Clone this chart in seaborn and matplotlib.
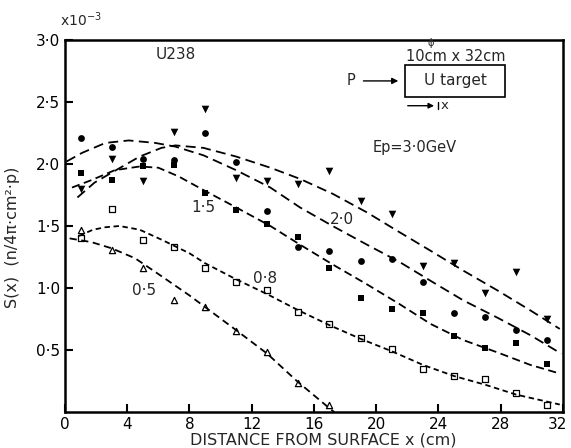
import matplotlib
matplotlib.use("Agg")
import matplotlib.pyplot as plt
import matplotlib.patches as mpatches
import matplotlib.transforms as mtransforms
from matplotlib.ticker import FuncFormatter
import pandas as pd
import seaborn as sns

# measured points, x = distance from surface (cm), S(x) in units of 1e-3
pts_x = [1, 3, 5, 7, 9, 11, 13, 15, 17, 19, 21, 23, 25, 27, 29, 31]
pts_30 = [1.80, 2.04, 1.86, 2.26, 2.44, 1.89, 1.86, 1.84, 1.94, 1.70, 1.60, 1.18, 1.20, 0.96, 1.13, 0.75]
pts_20 = [2.21, 2.14, 2.04, 2.03, 2.25, 2.02, 1.62, 1.33, 1.30, 1.22, 1.23, 1.05, 0.80, 0.77, 0.66, 0.58]
pts_15 = [1.93, 1.87, 1.98, 1.99, 1.77, 1.63, 1.52, 1.41, 1.16, 0.92, 0.83, 0.80, 0.61, 0.52, 0.56, 0.39]
pts_08 = [1.40, 1.64, 1.39, 1.33, 1.16, 1.05, 0.98, 0.81, 0.71, 0.60, 0.51, 0.35, 0.29, 0.27, 0.15, 0.06]
pts_05_x = [1, 3, 5, 7, 9, 11, 13, 15, 17]
pts_05 = [1.47, 1.31, 1.16, 0.90, 0.85, 0.65, 0.48, 0.23, 0.06]

# dashed fit curves
c30_x = [0.8, 1.9, 3.0, 4.8, 6.2, 7.1, 8.9, 11.0, 13.2, 15.1, 17.2, 19.4, 21.5, 23.5, 25.6, 27.8, 29.9, 31.8]
c30_y = [1.73, 1.85, 1.93, 2.06, 2.13, 2.15, 2.13, 2.06, 1.97, 1.88, 1.76, 1.61, 1.45, 1.30, 1.14, 0.98, 0.82, 0.67]
c20_x = [0.1, 1.1, 2.6, 4.1, 5.8, 7.1, 8.9, 11.0, 13.2, 15.1, 17.2, 19.4, 21.5, 23.6, 25.6, 27.8, 29.9, 31.9]
c20_y = [2.02, 2.09, 2.17, 2.19, 2.17, 2.14, 2.07, 1.95, 1.81, 1.65, 1.50, 1.35, 1.21, 1.05, 0.90, 0.76, 0.62, 0.47]
c15_x = [0.45, 1.7, 3.2, 4.8, 6.0, 7.3, 8.9, 11.0, 13.2, 15.1, 17.2, 19.4, 21.5, 23.5, 25.6, 27.8, 29.9, 31.8]
c15_y = [1.81, 1.87, 1.95, 1.98, 1.97, 1.90, 1.79, 1.65, 1.50, 1.35, 1.19, 1.03, 0.87, 0.71, 0.58, 0.48, 0.38, 0.31]
c08_x = [0.9, 1.8, 2.6, 3.5, 4.8, 6.2, 8.0, 9, 11, 13, 15, 17, 19, 21, 23, 25, 27, 29, 31.8]
c08_y = [1.42, 1.47, 1.49, 1.50, 1.47, 1.39, 1.28, 1.20, 1.07, 0.95, 0.82, 0.70, 0.59, 0.49, 0.38, 0.29, 0.22, 0.14, 0.06]
c05_x = [0.3, 1.7, 3.0, 4.5, 5.8, 8.0, 11.0, 13.0, 14.9, 16.9, 17.3]
c05_y = [1.40, 1.37, 1.32, 1.24, 1.13, 0.94, 0.66, 0.47, 0.25, 0.04, 0.0]

x_ticks = [0, 4, 8, 12, 16, 20, 24, 28, 32]
y_ticks = [0.5, 1.0, 1.5, 2.0, 2.5, 3.0]

sns.set_style("ticks")
plt.rcParams['font.family'] = ['DejaVu Sans']

fig = plt.figure(figsize=(5.71, 4.48), dpi=100)
ax = fig.add_axes([0.1138, 0.0804, 0.872, 0.8303])

curves = [
    (c30_x, c30_y, (0, (5.5, 3))),
    (c20_x, c20_y, (0, (5.5, 3))),
    (c15_x, c15_y, (0, (4.5, 2.5))),
    (c08_x, c08_y, (0, (3, 2))),
    (c05_x, c05_y, (0, (4, 2.5))),
]
for cx, cy, ls in curves:
    sns.lineplot(x=cx, y=cy, ax=ax, color='black', lw=1.3, linestyle=ls,
                 estimator=None, sort=False)

sns.scatterplot(x=pts_x, y=pts_30, ax=ax, marker='v', s=30, color='black', linewidth=0)
sns.scatterplot(x=pts_x, y=pts_20, ax=ax, marker='o', s=24, color='black', linewidth=0)
sns.scatterplot(x=pts_x, y=pts_15, ax=ax, marker='s', s=24, color='black', linewidth=0)
sns.scatterplot(x=pts_x, y=pts_08, ax=ax, marker='s', s=18, facecolor='white',
                edgecolor='black', linewidth=0.9)
sns.scatterplot(x=pts_05_x, y=pts_05, ax=ax, marker='^', s=20, facecolor='white',
                edgecolor='black', linewidth=0.9)

ax.set_xlim(0, 32)
ax.set_ylim(0, 3.0)
ax.set_xticks(x_ticks)
ax.set_yticks(y_ticks)
ax.yaxis.set_major_formatter(FuncFormatter(lambda v, p: f"{v:.1f}".replace('.', '\u00b7')))
ax.tick_params(direction='in', length=6, width=1.5, labelsize=11, colors='black')
for s in ax.spines.values():
    s.set_visible(True)
    s.set_linewidth(1.8)
    s.set_color('black')

# keep the "32" label inside the figure edge
last = ax.get_xticklabels()[-1]
last.set_transform(last.get_transform() + mtransforms.ScaledTranslation(-5 / 100, 0, fig.dpi_scale_trans))

ax.set_xlabel("DISTANCE FROM SURFACE x (cm)", fontsize=11.5)
ax.xaxis.set_label_coords(0.518, -0.055)
ax.set_ylabel("S(x)  (n/4\u03c0\u00b7cm\u00b2\u00b7p)", fontsize=11.5)
ax.yaxis.set_label_coords(-0.09, 0.47)

fig.text(0.105, 0.955, "x10$^{-3}$", fontsize=10, ha='left', va='center')

ax.text(7.1, 2.88, "U238", fontsize=11, ha='center', va='center')
ax.text(22.5, 2.13, "Ep=3\u00b70GeV", fontsize=10.5, ha='center', va='center')
ax.text(8.9, 1.65, "1\u00b75", fontsize=11, ha='center', va='center')
ax.text(17.8, 1.55, "2\u00b70", fontsize=11, ha='center', va='center')
ax.text(12.85, 1.08, "0\u00b78", fontsize=11, ha='center', va='center')
ax.text(5.1, 0.98, "0\u00b75", fontsize=11, ha='center', va='center')

# target sketch
ax.add_patch(mpatches.Rectangle((21.85, 2.54), 6.45, 0.26, fill=False, lw=1.2, color='black'))
ax.text(25.1, 2.67, "U target", fontsize=11, ha='center', va='center')
ax.text(25.1, 2.87, "10cm x 32cm", fontsize=10.5, ha='center', va='center')
ax.text(23.5, 2.975, "\u03d5", fontsize=7, ha='center', va='center')
ax.text(18.4, 2.67, "P", fontsize=10.5, ha='center', va='center')
ax.annotate("", xy=(21.6, 2.67), xytext=(19.0, 2.67),
            arrowprops=dict(arrowstyle='-|>', color='black', lw=1, mutation_scale=9))
ax.annotate("", xy=(23.9, 2.47), xytext=(21.85, 2.47),
            arrowprops=dict(arrowstyle='-|>', color='black', lw=1, mutation_scale=8))
ax.plot([23.95, 23.95], [2.44, 2.50], color='black', lw=1)
ax.text(24.4, 2.47, "x", fontsize=9.5, ha='center', va='center')

plt.savefig("out.png", dpi=100)
